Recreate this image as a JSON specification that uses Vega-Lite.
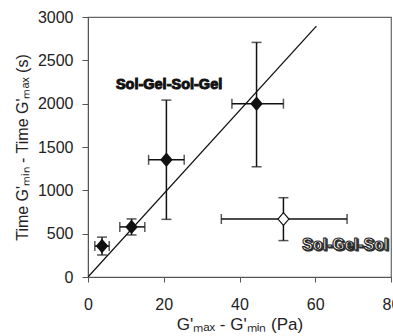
{
  "$schema": "https://vega.github.io/schema/vega-lite/v6.json",
  "autosize": {"type": "none"},
  "padding": {"left": 88, "top": 17, "right": 2, "bottom": 59},
  "width": 303,
  "height": 260,
  "background": "white",
  "config": {
    "view": {"stroke": "#666", "strokeWidth": 1.2},
    "font": "Liberation Sans",
    "axis": {
      "grid": false,
      "domainColor": "#555",
      "tickColor": "#555",
      "labelColor": "#222",
      "titleColor": "#222",
      "labelFont": "Liberation Sans",
      "titleFont": "Liberation Sans",
      "labelFontSize": 16,
      "titleFontSize": 16,
      "titleFontWeight": "normal",
      "labelFlush": false,
      "labelOverlap": false
    }
  },
  "datasets": {
    "pts": [
      {"x": 3.7, "y": 357, "xlo": 1.8, "xhi": 5.6, "ylo": 254, "yhi": 460, "type": "Sol-Gel-Sol-Gel"},
      {"x": 11.5, "y": 578, "xlo": 8.4, "xhi": 15.0, "ylo": 485, "yhi": 670, "type": "Sol-Gel-Sol-Gel"},
      {"x": 20.7, "y": 1352, "xlo": 16.0, "xhi": 25.4, "ylo": 665, "yhi": 2041, "type": "Sol-Gel-Sol-Gel"},
      {"x": 44.5, "y": 2000, "xlo": 38.0, "xhi": 51.6, "ylo": 1272, "yhi": 2707, "type": "Sol-Gel-Sol-Gel"},
      {"x": 51.6, "y": 669, "xlo": 35.2, "xhi": 68.4, "ylo": 420, "yhi": 915, "type": "Sol-Gel-Sol"}
    ],
    "fit": [
      {"x": 0, "y": 0},
      {"x": 60.3, "y": 2895}
    ],
    "labels": [
      {"x": 21.4, "y": 2215, "label": "Sol-Gel-Sol-Gel", "kind": "solid"},
      {"x": 67.9, "y": 369, "label": "Sol-Gel-Sol", "kind": "outline"}
    ]
  },
  "encoding": {
    "x": {"type": "quantitative"},
    "y": {"type": "quantitative"}
  },
  "layer": [
    {
      "data": {"name": "fit"},
      "mark": {"type": "line", "color": "#111", "strokeWidth": 1.3, "clip": true},
      "encoding": {
        "x": {
          "field": "x", "type": "quantitative",
          "scale": {"domain": [0, 80], "nice": false},
          "axis": {
            "values": [0, 20, 40, 60, 80],
            "format": "d",
            "tickSize": 5,
            "labelPadding": 14,
            "title": "G'ₘₐₓ - G'ₘᵢₙ (Pa)",
            "titlePadding": 4,
            "titleFontSize": 17
          }
        },
        "y": {
          "field": "y", "type": "quantitative",
          "scale": {"domain": [0, 3000], "nice": false},
          "axis": {
            "values": [0, 500, 1000, 1500, 2000, 2500, 3000],
            "format": "d",
            "tickSize": 6,
            "labelPadding": 9,
            "title": "Time G'ₘᵢₙ - Time G'ₘₐₓ (s)",
            "titlePadding": 7
          }
        }
      }
    },
    {
      "data": {"name": "pts"},
      "mark": {"type": "rule", "color": "#111", "strokeWidth": 1.5},
      "encoding": {
        "x": {"field": "x", "type": "quantitative"},
        "y": {"field": "ylo", "type": "quantitative"},
        "y2": {"field": "yhi"}
      }
    },
    {
      "data": {"name": "pts"},
      "mark": {"type": "rule", "color": "#111", "strokeWidth": 1.5},
      "encoding": {
        "y": {"field": "y", "type": "quantitative"},
        "x": {"field": "xlo", "type": "quantitative"},
        "x2": {"field": "xhi"}
      }
    },
    {
      "data": {"name": "pts"},
      "mark": {"type": "tick", "orient": "horizontal", "color": "#111", "size": 10, "thickness": 1.5},
      "encoding": {
        "x": {"field": "x", "type": "quantitative"},
        "y": {"field": "ylo", "type": "quantitative"}
      }
    },
    {
      "data": {"name": "pts"},
      "mark": {"type": "tick", "orient": "horizontal", "color": "#111", "size": 10, "thickness": 1.5},
      "encoding": {
        "x": {"field": "x", "type": "quantitative"},
        "y": {"field": "yhi", "type": "quantitative"}
      }
    },
    {
      "data": {"name": "pts"},
      "mark": {"type": "tick", "orient": "vertical", "color": "#111", "size": 10, "thickness": 1.5},
      "encoding": {
        "x": {"field": "xlo", "type": "quantitative"},
        "y": {"field": "y", "type": "quantitative"}
      }
    },
    {
      "data": {"name": "pts"},
      "mark": {"type": "tick", "orient": "vertical", "color": "#111", "size": 10, "thickness": 1.5},
      "encoding": {
        "x": {"field": "xhi", "type": "quantitative"},
        "y": {"field": "y", "type": "quantitative"}
      }
    },
    {
      "data": {"name": "pts"},
      "mark": {"type": "point", "shape": "M-1,0L0,-1.15L1,0L0,1.15Z", "size": 120, "filled": true, "stroke": "#111", "strokeWidth": 1.2, "opacity": 1},
      "encoding": {
        "x": {"field": "x", "type": "quantitative"},
        "y": {"field": "y", "type": "quantitative"},
        "fill": {
          "field": "type", "type": "nominal",
          "scale": {"domain": ["Sol-Gel-Sol-Gel", "Sol-Gel-Sol"], "range": ["#111", "white"]},
          "legend": null
        }
      }
    },
    {
      "data": {"name": "labels"},
      "transform": [{"filter": "datum.kind == 'solid'"}],
      "mark": {"type": "text", "font": "Liberation Sans", "fontWeight": "bold", "fontSize": 14.5, "fill": "#111", "stroke": "#111", "strokeWidth": 1, "align": "center", "baseline": "middle"},
      "encoding": {
        "x": {"field": "x", "type": "quantitative"},
        "y": {"field": "y", "type": "quantitative"},
        "text": {"field": "label"}
      }
    },
    {
      "data": {"name": "labels"},
      "transform": [{"filter": "datum.kind == 'outline'"}],
      "mark": {"type": "text", "font": "Liberation Sans", "fontWeight": "bold", "fontSize": 16, "fill": "#333", "stroke": "#333", "strokeWidth": 1.2, "dx": 1.3, "dy": 1.3, "align": "center", "baseline": "middle"},
      "encoding": {
        "x": {"field": "x", "type": "quantitative"},
        "y": {"field": "y", "type": "quantitative"},
        "text": {"field": "label"}
      }
    },
    {
      "data": {"name": "labels"},
      "transform": [{"filter": "datum.kind == 'outline'"}],
      "mark": {"type": "text", "font": "Liberation Sans", "fontWeight": "bold", "fontSize": 16, "fill": "white", "stroke": "#222", "strokeWidth": 1.1, "align": "center", "baseline": "middle"},
      "encoding": {
        "x": {"field": "x", "type": "quantitative"},
        "y": {"field": "y", "type": "quantitative"},
        "text": {"field": "label"}
      }
    }
  ]
}
